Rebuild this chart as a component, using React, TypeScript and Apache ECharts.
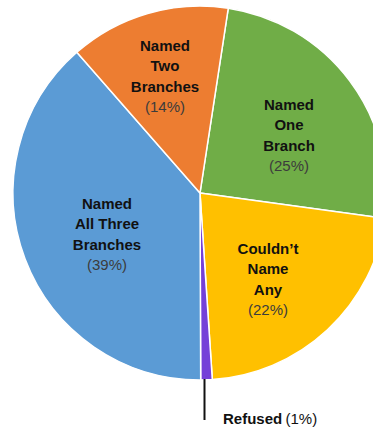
import React, { useEffect, useRef } from "react";
import * as echarts from "echarts";

const categories = [
  "Named\nOne\nBranch",
  "Couldn’t\nName\nAny",
  "Refused",
  "Named\nAll Three\nBranches",
  "Named\nTwo\nBranches",
];
const values = [25, 22, 1, 39, 14];
const colors = ["#70AD47", "#FFC000", "#7540D8", "#5B9BD5", "#ED7D31"];

// label anchor positions (layout only)
const labelPos: Array<[number, number, string]> = [
  [289, 135, "center"],
  [268, 279, "center"],
  [223, 418, "left"],
  [107, 234, "center"],
  [165, 76, "center"],
];

export default function App() {
  const ref = useRef<HTMLDivElement>(null);
  useEffect(() => {
    const chart = echarts.init(ref.current!, null, { renderer: "svg" });
    const font = "'Liberation Sans', Arial, sans-serif";
    chart.setOption({
      animation: false,
      backgroundColor: "#ffffff",
      graphic: [
        {
          type: "line",
          shape: { x1: 204.5, y1: 379, x2: 204.5, y2: 420 },
          style: { stroke: "#111111", lineWidth: 2 },
          z: 10,
        },
      ],
      series: [
        {
          type: "pie",
          center: [200, 193],
          radius: [0, 187],
          startAngle: 81.3,
          clockwise: true,
          avoidLabelOverlap: false,
          itemStyle: { borderColor: "#ffffff", borderWidth: 1.5 },
          label: {
            show: true,
            position: "inside",
            fontFamily: font,
            formatter: (p: any) =>
              p.name
                .split("\n")
                .map((s: string) => `{b|${s}}`)
                .join("\n") + `\n{p|(${p.value}%)}`,
            rich: {
              b: { fontFamily: font, fontSize: 15, fontWeight: "bold", color: "#111111", lineHeight: 20.5 },
              p: { fontFamily: font, fontSize: 15, color: "#3c3c3c", lineHeight: 20.5 },
            },
          },
          labelLine: { show: false },
          labelLayout: (params: any) => {
            const pos = labelPos[params.dataIndex];
            return { x: pos[0], y: pos[1], align: pos[2], verticalAlign: "middle" };
          },
          data: categories.map((name, i) => {
            const item: any = { name, value: values[i], itemStyle: { color: colors[i] } };
            if (name === "Refused") {
              item.label = {
                formatter: (p: any) => `{rb|${p.name}} {rp|(${p.value}%)}`,
                rich: {
                  rb: { fontFamily: font, fontSize: 15, fontWeight: "bold", color: "#111111" },
                  rp: { fontFamily: font, fontSize: 15, color: "#111111" },
                },
              };
            }
            return item;
          }),
        },
      ],
    });
    return () => chart.dispose();
  }, []);
  return (
    <div
      ref={ref}
      style={{ position: "fixed", left: 0, top: 0, width: 373, height: 427 }}
    />
  );
}
